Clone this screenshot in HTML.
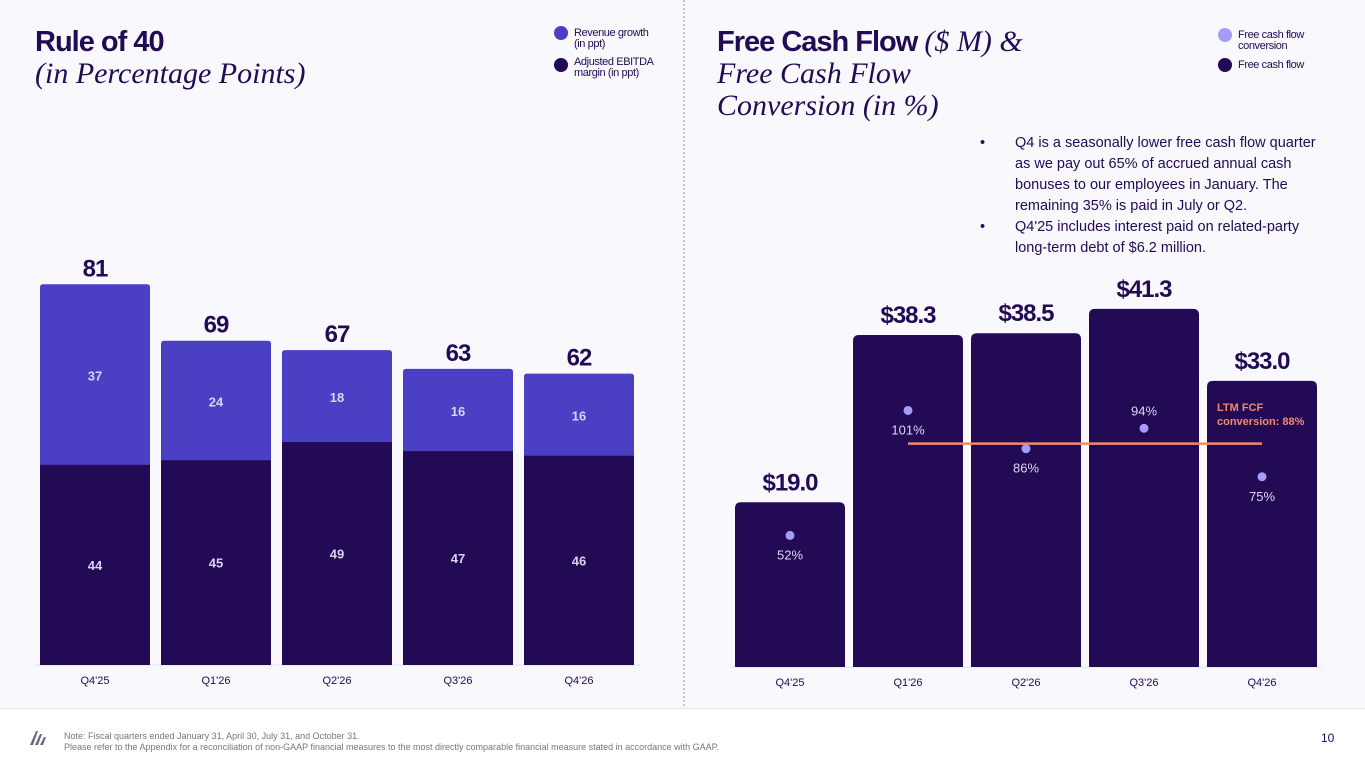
<!DOCTYPE html>
<html><head><meta charset="utf-8"><style>
body{margin:0;width:1365px;height:768px;overflow:hidden;background:#fff;font-family:"Liberation Sans",sans-serif;position:relative}
#panel{position:absolute;left:0;top:0;width:1365px;height:708px;background:#f8f8fd;border-bottom:1px solid #e6e6ee}
.t{position:absolute;color:#220a54}
.h{font-weight:bold;font-size:29px;letter-spacing:-1px}
.i{font-family:"Liberation Serif",serif;font-style:italic;font-size:30px;line-height:32px}
.leg{position:absolute;font-size:11px;line-height:11px;color:#220a54;letter-spacing:-0.4px}
.dot{position:absolute;width:14px;height:14px;border-radius:50%}
.b{position:relative;padding-left:35px}
.b span{position:absolute;left:0;top:0}
</style></head><body>
<div id="panel"></div>
<div style="position:absolute;left:683px;top:0;height:706px;border-left:2px dotted #c8c8d4"></div>
<div class="t h" style="left:35px;top:26px">Rule of 40</div>
<div class="t i" style="left:35px;top:58px">(in Percentage Points)</div>
<div class="dot" style="left:554px;top:26px;background:#4b3fc4"></div>
<div class="leg" style="left:574px;top:28px">Revenue growth<br>(in ppt)</div>
<div class="dot" style="left:554px;top:58px;background:#220a54"></div>
<div class="leg" style="left:574px;top:57px">Adjusted EBITDA<br>margin (in ppt)</div>

<div class="t h" style="left:717px;top:26px">Free Cash Flow <span class="i" style="font-weight:normal;letter-spacing:0">($ M) &amp;</span></div>
<div class="t i" style="left:717px;top:58px">Free Cash Flow<br>Conversion (in %)</div>
<div class="dot" style="left:1218px;top:28px;background:#a49cf5"></div>
<div class="leg" style="left:1238px;top:30px">Free cash flow<br>conversion</div>
<div class="dot" style="left:1218px;top:58px;background:#220a54"></div>
<div class="leg" style="left:1238px;top:60px">Free cash flow</div>
<div style="position:absolute;left:980px;top:133px;width:340px;font-size:14.5px;line-height:21px;color:#220a54">
<div class="b"><span>•</span>Q4 is a seasonally lower free cash flow quarter as we pay out 65% of accrued annual cash bonuses to our employees in January. The remaining 35% is paid in July or Q2.</div>
<div class="b"><span>•</span>Q4'25 includes interest paid on related-party long-term debt of $6.2 million.</div></div>

<svg id="c" width="1365" height="768" style="position:absolute;left:0;top:0"></svg>

<div style="position:absolute;left:28px;top:727px;width:18px;height:20px">
<svg width="18" height="20"><path d="M2 18 L8 4 L10 4 L5 18Z M7 18 L12 7 L14 7 L10 18Z M12 18 L16 10 L18 10 L15 18Z" fill="#6a6a7a"/></svg></div>
<div style="position:absolute;left:64px;top:731px;font-size:9px;line-height:11px;color:#777">Note: Fiscal quarters ended January 31, April 30, July 31, and October 31.<br>Please refer to the Appendix for a reconciliation of non-GAAP financial measures to the most directly comparable financial measure stated in accordance with GAAP.</div>
<div style="position:absolute;left:1321px;top:731px;font-size:12px;color:#220a54">10</div>

<script>
const categories=["Q4'25","Q1'26","Q2'26","Q3'26","Q4'26"];
const ebitda=[44,45,49,47,46];
const revGrowth=[37,24,18,16,16];
const ruleTotals=[81,69,67,63,62];
const fcf=[19.0,38.3,38.5,41.3,33.0];
const conversion=[52,101,86,94,75];
const ltmConversion=88;

const NS="http://www.w3.org/2000/svg",svg=document.getElementById('c');
function mk(tag,a,txt){const e=document.createElementNS(NS,tag);for(const k in a)e.setAttribute(k,a[k]);if(txt!==undefined)e.textContent=txt;svg.appendChild(e);return e;}
const lx=i=>40+i*121, lw=110, lb=665, ly=v=>lb-v*4.70, lyE=v=>lb-v*4.55;
const rx=i=>735+i*118, rw=110, rb=667, ry=v=>rb-v*8.67, py=p=>668-p*2.55;

mk('line',{x1:35,x2:640,y1:lb,y2:lb,stroke:'#e2e2ea'});
categories.forEach((c,i)=>{
  const tot=ruleTotals[i];
  const yE=lyE(ebitda[i]), yT=ly(tot);
  let e=mk('path',{d:`M${lx(i)} ${lb}V${yT+3}q0-3 3-3h${lw-6}q3 0 3 3V${lb}Z`,fill:'#4b3fc4'});
  
  e=mk('rect',{x:lx(i),y:yE,width:lw,height:lb-yE,fill:'#220a54'});
  
  mk('text',{x:lx(i)+lw/2,y:(yE+lb)/2+5,'text-anchor':'middle','font-size':13,'font-weight':'bold',fill:'#d8d4f0'},ebitda[i]);
  mk('text',{x:lx(i)+lw/2,y:(yE+yT)/2+6,'text-anchor':'middle','font-size':13,'font-weight':'bold',fill:'#d8d4f0'},revGrowth[i]);
  e=mk('text',{x:lx(i)+lw/2,y:yT-8,'text-anchor':'middle','font-size':24,'font-weight':'bold',fill:'#220a54','letter-spacing':'-1'},tot);
  
  mk('text',{x:lx(i)+lw/2,y:684,'text-anchor':'middle','font-size':11,fill:'#220a54'},c);
});

mk('line',{x1:730,x2:1322,y1:rb,y2:rb,stroke:'#e2e2ea'});
categories.forEach((c,i)=>{
  const yT=ry(fcf[i]);
  let e=mk('path',{d:`M${rx(i)} ${rb}V${yT+6}q0-6 6-6h${rw-12}q6 0 6 6V${rb}Z`,fill:'#220a54'});
  
  e=mk('text',{x:rx(i)+rw/2,y:yT-12,'text-anchor':'middle','font-size':24,'font-weight':'bold',fill:'#220a54','letter-spacing':'-1'},'$'+fcf[i].toFixed(1));
  
  mk('text',{x:rx(i)+rw/2,y:686,'text-anchor':'middle','font-size':11,fill:'#220a54'},c);
});
const lyL=py(ltmConversion);
let ln=mk('line',{x1:rx(1)+rw/2,x2:rx(4)+rw/2,y1:lyL,y2:lyL,stroke:'#f08a6a','stroke-width':2.5});

mk('text',{x:1217,y:411,'font-size':11,'font-weight':'bold',fill:'#f08a6a'},'LTM FCF');
mk('text',{x:1217,y:425,'font-size':11,'font-weight':'bold',fill:'#f08a6a'},'conversion: 88%');
categories.forEach((c,i)=>{
  const cx=rx(i)+rw/2, cy=py(conversion[i]);
  let d=mk('circle',{cx:cx,cy:cy,r:4.5,fill:'#a49cf5'});
  
  const above=conversion[i]===94;
  mk('text',{x:cx,y:above?cy-13:cy+24,'text-anchor':'middle','font-size':13,fill:'#ddd8f4'},conversion[i]+'%');
});
</script>
</body></html>
